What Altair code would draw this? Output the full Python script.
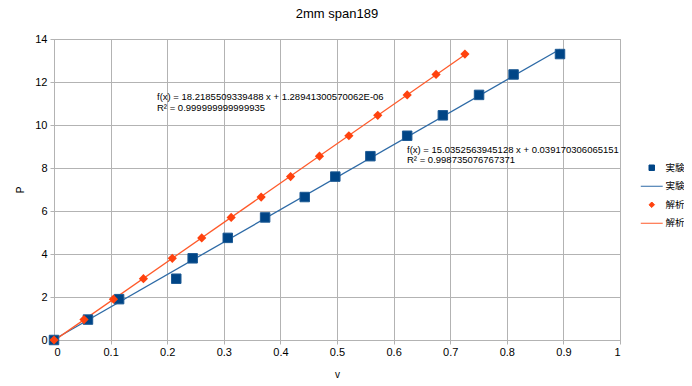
import altair as alt
import pandas as pd

# ---- data ----
v_exp = [0, 0.060, 0.115, 0.216, 0.245, 0.307, 0.373, 0.443, 0.497, 0.559, 0.624, 0.687, 0.751, 0.812, 0.894]
p_exp = [0, 0.95, 1.9, 2.85, 3.8, 4.75, 5.7, 6.65, 7.6, 8.55, 9.5, 10.45, 11.4, 12.35, 13.3]
v_ana = [0, 0.053, 0.105, 0.158, 0.209, 0.261, 0.313, 0.366, 0.418, 0.469, 0.521, 0.572, 0.624, 0.675, 0.726]
p_ana = [0, 0.95, 1.9, 2.85, 3.8, 4.75, 5.7, 6.65, 7.6, 8.55, 9.5, 10.45, 11.4, 12.35, 13.3]

legend_keys = ["実験_pt", "実験_ln", "解析_pt", "解析_ln"]
eq_ana = ["f(x) = 18.2185509339488 x + 1.28941300570062E-06", "R² = 0.999999999999935"]
eq_exp = ["f(x) = 15.0352563945128 x + 0.039170306065151", "R² = 0.998735076767371"]

BLUE = "#004586"
BLUE_LN = "#2d6aa6"
RED = "#ff420e"
RED_LN = "#ff5a2a"
FONT = "Liberation Sans"

df_exp = pd.DataFrame({"v": v_exp, "P": p_exp})
df_ana = pd.DataFrame({"v": v_ana, "P": p_ana})
df_leg = pd.DataFrame({"key": legend_keys, "v": [0] * 4, "P": [0] * 4})

xs = alt.Scale(domain=[0, 1], nice=False)
ys = alt.Scale(domain=[0, 14], nice=False)
X = alt.X("v:Q", scale=xs, title="v",
          axis=alt.Axis(values=[i / 10 for i in range(11)], format="~g"))
Y = alt.Y("P:Q", scale=ys, title="P",
          axis=alt.Axis(values=list(range(0, 15, 2))))

line_exp = alt.Chart(df_exp).transform_regression("v", "P").mark_line(
    color=BLUE_LN, strokeWidth=1.3).encode(x=X, y=Y)
line_ana = alt.Chart(df_ana).transform_regression("v", "P").mark_line(
    color=RED_LN, strokeWidth=1.3).encode(x=X, y=Y)

pts_exp = alt.Chart(df_exp).mark_point(
    shape="square", filled=True, size=90, color=BLUE, opacity=1,
    stroke="#1d5a94", strokeWidth=1).encode(x=X, y=Y)
pts_ana = alt.Chart(df_ana).mark_point(
    shape="diamond", filled=True, size=85, color=RED, opacity=1).encode(x=X, y=Y)

shape_range = ["square", "M-4,0H4", "diamond", "M-4,0H4"]
fill_range = [BLUE, BLUE_LN, RED, RED_LN]
leg_scale = dict(domain=legend_keys)
legend = alt.Legend(
    title=None, orient="none", legendX=593, legendY=124,
    labelExpr="split(datum.label, '_')[0]", labelFont="Noto Sans CJK JP",
    labelFontSize=9.5, labelColor="#000000", labelOffset=9, rowPadding=7.5,
    symbolStrokeWidth=1, symbolSize=30, padding=0,
)
leg = alt.Chart(df_leg).transform_filter("false").mark_point(
    filled=True, size=30, opacity=1, strokeWidth=1).encode(
    x=X, y=Y,
    shape=alt.Shape("key:N", scale=alt.Scale(range=shape_range, **leg_scale), legend=legend),
    fill=alt.Fill("key:N", scale=alt.Scale(range=fill_range, **leg_scale), legend=legend),
    stroke=alt.Stroke("key:N", scale=alt.Scale(range=fill_range, **leg_scale), legend=legend),
)

def label(text, xv, yv):
    return alt.Chart().mark_text(
        align="left", baseline="middle", font=FONT, fontSize=9.5, color="#000000"
    ).encode(x=alt.datum(xv, scale=xs), y=alt.datum(yv, scale=ys), text=alt.value(text))

texts = [
    label(eq_ana[0], 0.182, 11.29), label(eq_ana[1], 0.182, 10.78),
    label(eq_exp[0], 0.6237, 8.85), label(eq_exp[1], 0.6237, 8.35),
]

chart = alt.layer(line_exp, line_ana, pts_exp, pts_ana, leg, *texts).properties(
    width=566, height=301,
    title=alt.Title("2mm span189", font=FONT, fontSize=13, fontWeight="normal",
                    color="#000000", offset=12),
    autosize=alt.AutoSizeParams(type="none"),
    padding={"left": 46, "top": 31, "right": 64, "bottom": 38},
).configure_view(stroke="#b3b3b3", strokeWidth=1).configure_axis(
    gridColor="#b3b3b3", domainColor="#b3b3b3", tickColor="#b3b3b3",
    labelFont=FONT, labelFontSize=11, labelColor="#000000", tickSize=4,
    titleFont=FONT, titleFontSize=10, titleFontWeight="normal", titleColor="#000000",
    labelPadding=2,
).configure_axisY(titlePadding=9, labelPadding=3).configure_axisX(titlePadding=12)

chart.save("out.html", embed_options={"renderer": "svg", "actions": False})
